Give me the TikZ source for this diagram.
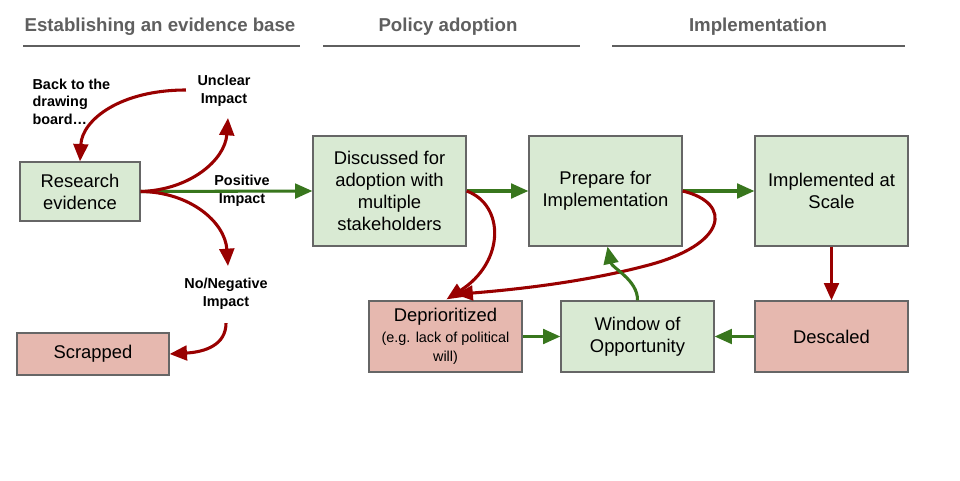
\documentclass[tikz,border=0pt]{standalone}
\usepackage{fontspec}
\setmainfont{Liberation Sans}
\usetikzlibrary{arrows.meta,calc}
\definecolor{gfill}{HTML}{D9EAD3}
\definecolor{rfill}{HTML}{E6B8AF}
\definecolor{garrow}{HTML}{38761D}
\definecolor{rarrow}{HTML}{990000}
\definecolor{hdr}{HTML}{5F5F5F}
\definecolor{bord}{HTML}{666666}
\tikzset{
  box/.style={draw=bord, line width=0.9pt, align=center, inner sep=0pt,
    font=\fontsize{13.8}{16.5}\selectfont},
  gbox/.style={box, fill=gfill},
  rbox/.style={box, fill=rfill},
  lbl/.style={align=center, font=\bfseries\fontsize{10.8}{13.2}\selectfont, inner sep=1pt},
  hd/.style={font=\bfseries\fontsize{14}{16}\selectfont, text=hdr},
  hline/.style={draw=hdr, line width=2.2pt},
  ga/.style={draw=garrow, line width=2.3pt, -{Triangle[length=13pt,width=11pt]}},
  ra/.style={draw=rarrow, line width=2.3pt, -{Triangle[length=13pt,width=11pt]}},
}
\begin{document}
\begin{tikzpicture}[x=0.75pt,y=-0.75pt]
\useasboundingbox[fill=white] (0,0) rectangle (960,481);
% headers
\node[hd] (h1) at (160,27) {Establishing an evidence base};
\node[hd] (h2) at (448,27) {Policy adoption};
\node[hd] (h3) at (758,27) {Implementation};
\draw[hline] (23,46) -- (300,46);
\draw[hline] (323,46) -- (580,46);
\draw[hline] (612,46) -- (905,46);
% boxes
\node[gbox, minimum width=90pt, minimum height=44.25pt] (res) at (80,191.5) {Research\\evidence};
\node[rbox, minimum width=114pt, minimum height=31.5pt] (scr) at (93,354) {Scrapped};
\node[gbox, minimum width=114.75pt, minimum height=82.5pt] (dis) at (389.5,191) {Discussed for\\adoption with\\multiple\\stakeholders};
\node[gbox, minimum width=114.75pt, minimum height=82.5pt] (pre) at (605.5,191) {Prepare for\\Implementation};
\node[gbox, minimum width=114.75pt, minimum height=82.5pt] (imp) at (831.5,191) {Implemented at\\Scale};
\node[rbox, minimum width=114.75pt, minimum height=53.25pt] (dep) at (445.5,336.5) {Deprioritized\\[-1pt]{\fontsize{10.8}{12.75}\selectfont (e.g. lack of political}\\[-2pt]{\fontsize{10.8}{12.75}\selectfont will)}};
\node[gbox, minimum width=114.75pt, minimum height=53.25pt] (win) at (637.5,336.5) {Window of\\Opportunity};
\node[rbox, minimum width=114.75pt, minimum height=53.25pt] (des) at (831.5,336.5) {Descaled};
% labels
\node[lbl] (unc) at (224,91) {Unclear\\Impact};
\node[lbl] (pos) at (242,191) {Positive\\Impact};
\node[lbl] (neg) at (226,294) {No/Negative\\Impact};
\node[lbl, align=left, anchor=north west] (back) at (31,77) {Back to the\\drawing\\board\ldots};
% connectors
\coordinate (rs) at (res.east);
\draw[ga] (res.east) -- (dis.west);
\draw[ra] (rs) .. controls (190,190) and (225,160) .. (228,118);
\draw[ra] ($(unc.west)+(-10,-1)$) .. controls (120,90) and (82,120) .. (res.north);
\draw[ra] (rs) .. controls (190,192) and (225,222) .. (228,266);
\draw[ra] ($(neg.south)+(0,12)$) .. controls (226,345) and (205,352) .. (scr.east);
\draw[ga] (dis.east) -- (pre.west);
\draw[ga] (pre.east) -- (imp.west);
\draw[ra] (dis.east) .. controls (505,205) and (505,262) .. ($(dep.north)+(1,-1)$);
\draw[ra] (pre.east) .. controls (733,203) and (728,245) .. (645,266) .. controls (580,283) and (510,290) .. ($(dep.north)+(10,-6)$);
\draw[ga] (win.north) .. controls (638,280) and (612,268) .. ($(pre.south)+(2,0)$);
\draw[ga] (dep.east) -- (win.west);
\draw[ga] (des.west) -- (win.east);
\draw[ra] (imp.south) -- (des.north);
\end{tikzpicture}
\end{document}
